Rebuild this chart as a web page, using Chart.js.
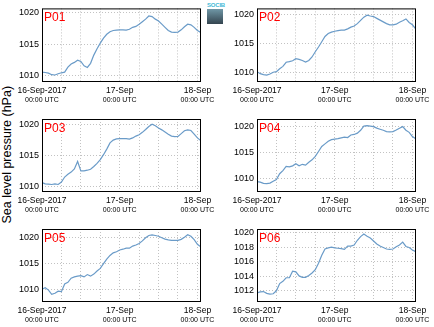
<!DOCTYPE html>
<html>
<head>
<meta charset="utf-8">
<script src="https://cdn.jsdelivr.net/npm/chart.js@4.4.0/dist/chart.umd.min.js"></script>
<style>
  body { margin: 0; background: #fff; }
  #wrap { position: relative; width: 434px; height: 327px; overflow: hidden; font-family: "Liberation Sans", Arial, sans-serif; }
  #wrap canvas { position: absolute; }
  #ylabel { position: absolute; left: 0; top: 0; white-space: nowrap; font-size: 12.5px; line-height: 1;
            transform-origin: 0 0; transform: translate(1px, 223.5px) rotate(-90deg); color: #000; }
  #logo { position: absolute; left: 207px; top: 2px; width: 16px; }
  #logo .txt { font-size: 6px; line-height: 7px; color: #3fb9d6; font-weight: bold; letter-spacing: -0.2px; text-align: center; }
  #logo .box { height: 15px; background: linear-gradient(#6f97a6, #34444f); }
</style>
</head>
<body>
<div id="wrap">
  <div id="ylabel">Sea level pressure (hPa)</div>
  <div id="logo"><div class="txt">SOCIB</div><div class="box"></div></div>
</div>
<script>
// hours since 16-Sep-2017 00:00 UTC
const hours = [0,1,2,3,4,5,6,7,8,9,10,11,12,13,14,15,16,17,18,19,20,21,22,23,24,
  25,26,27,28,29,30,31,32,33,34,35,36,37,38,39,40,41,42,43,44,45,46,47,48,49];

const p01 = [1010.6,1010.55,1010.45,1010.2,1010.15,1010.35,1010.5,1010.6,1011.4,1011.9,
  1012.15,1012.5,1012.3,1011.6,1011.35,1012.0,1013.3,1014.3,1015.2,1016.0,
  1016.6,1017.0,1017.2,1017.25,1017.3,1017.3,1017.25,1017.4,1017.7,1017.85,
  1018.2,1018.6,1019.0,1019.5,1019.4,1019.0,1018.7,1018.2,1017.7,1017.2,
  1016.95,1016.9,1016.95,1017.3,1017.8,1018.2,1018.1,1017.7,1017.2,1016.9];
const p02 = [1010.2,1009.85,1009.7,1009.6,1009.8,1010.1,1010.2,1010.7,1011.1,1011.8,
  1011.9,1012.05,1012.4,1012.3,1012.1,1011.85,1012.1,1012.7,1013.6,1014.4,
  1015.3,1016.2,1016.7,1016.95,1017.1,1017.2,1017.3,1017.3,1017.5,1017.8,
  1018.0,1018.4,1018.95,1019.5,1019.85,1019.7,1019.6,1019.3,1019.0,1018.7,
  1018.4,1018.2,1018.2,1018.3,1018.65,1018.9,1019.2,1018.6,1018.2,1017.5];
const p03 = [1010.6,1010.4,1010.35,1010.3,1010.4,1010.3,1010.7,1011.5,1011.95,1012.3,
  1012.8,1014.0,1012.5,1012.5,1012.6,1012.75,1013.2,1013.7,1014.3,1015.1,
  1016.0,1017.0,1017.45,1017.65,1017.7,1017.7,1017.7,1017.6,1017.8,1018.1,
  1018.3,1018.7,1019.15,1019.65,1020.0,1019.75,1019.4,1019.1,1018.75,1018.4,
  1018.1,1018.0,1018.05,1018.5,1018.95,1019.1,1019.0,1018.4,1017.8,1017.4];
const p04 = [1009.4,1009.3,1009.05,1009.0,1009.1,1009.45,1009.8,1010.9,1011.5,1012.3,
  1012.2,1012.4,1012.8,1012.4,1012.7,1012.55,1013.1,1013.55,1014.2,1015.15,
  1016.1,1016.6,1017.1,1017.4,1017.5,1017.6,1017.75,1017.9,1017.8,1018.3,
  1018.4,1018.65,1019.2,1020.0,1020.1,1020.0,1019.9,1019.6,1019.4,1019.2,
  1018.95,1018.9,1018.95,1019.25,1019.6,1019.9,1019.2,1018.8,1018.0,1017.6];
const p05 = [1010.0,1010.25,1009.8,1009.0,1009.2,1009.6,1009.5,1011.0,1011.3,1012.1,
  1012.35,1012.5,1012.6,1012.35,1012.8,1012.5,1012.9,1013.5,1014.0,1014.9,
  1015.8,1016.5,1017.0,1017.2,1017.55,1017.7,1017.9,1017.9,1018.3,1018.5,
  1018.8,1019.3,1019.9,1020.35,1020.45,1020.35,1020.2,1019.9,1019.65,1019.5,
  1019.4,1019.4,1019.4,1019.6,1020.0,1020.5,1020.2,1019.55,1018.65,1018.2];
const p06 = [1011.7,1011.85,1011.9,1011.65,1011.55,1011.6,1012.0,1013.0,1013.3,1013.8,
  1013.8,1014.7,1014.6,1014.05,1013.85,1013.85,1014.1,1014.45,1014.9,1015.8,
  1016.9,1017.75,1017.9,1018.0,1017.9,1017.85,1017.8,1017.7,1018.15,1018.15,
  1018.3,1018.95,1019.45,1019.8,1019.5,1019.25,1018.85,1018.45,1018.15,1017.95,
  1017.75,1017.7,1017.75,1018.05,1018.3,1018.7,1018.1,1017.95,1017.6,1017.4];

const panelNames = ["P01", "P02", "P03", "P04", "P05", "P06"];
const yTicksMain = [1010, 1015, 1020];
const yTicksP06 = [1012, 1014, 1016, 1018, 1020];
const xGridHours = [0, 6, 12, 18, 24, 30, 36, 42, 48];
const xLabelHours = [0, 24, 48];
const xLabels = ["16-Sep-2017", "17-Sep", "18-Sep"];
const xSubLabel = "00:00 UTC";

const FONT = "'Liberation Sans', Arial, sans-serif";
const LINE_COLOR = "#6a9bc8";
const GRID_COLOR = "#c2c2c2";

// layout of the 2x3 grid
const cols = [
  { left: 0, width: 215, padRight: 15 },
  { left: 215, width: 219, padRight: 19 }
];
const rows = [
  { top: 0, height: 108, padTop: 7, axisH: 27 },
  { top: 108, height: 110, padTop: 11, axisH: 27 },
  { top: 218, height: 109, padTop: 11, axisH: 26 }
];

const panels = [
  { values: p01, yTicks: yTicksMain, yMin: 1009.2, yMax: 1020.7 },
  { values: p02, yTicks: yTicksMain, yMin: 1008.6, yMax: 1021.0 },
  { values: p03, yTicks: yTicksMain, yMin: 1009.25, yMax: 1020.85 },
  { values: p04, yTicks: yTicksMain, yMin: 1007.6, yMax: 1021.35 },
  { values: p05, yTicks: yTicksMain, yMin: 1007.7, yMax: 1021.6 },
  { values: p06, yTicks: yTicksP06, yMin: 1010.6, yMax: 1020.5 }
];

// frame, panel name and two-line date labels
const panelDecor = {
  id: "panelDecor",
  afterDraw(chart, args, opts) {
    const { ctx, chartArea: a, scales: { x } } = chart;
    ctx.save();
    ctx.strokeStyle = "#000";
    ctx.lineWidth = 1;
    ctx.strokeRect(a.left + 0.5, a.top + 0.5, a.right - a.left, a.bottom - a.top);

    ctx.fillStyle = "#f00";
    ctx.font = "12px " + FONT;
    ctx.textAlign = "left";
    ctx.textBaseline = "alphabetic";
    ctx.fillText(opts.name, a.left + 2, a.top + 13);

    ctx.fillStyle = "#000";
    ctx.textAlign = "center";
    xLabelHours.forEach((h, i) => {
      const px = x.getPixelForValue(h);
      ctx.font = "8.5px " + FONT;
      ctx.fillText(xLabels[i], px, a.bottom + 12);
      ctx.font = "7px " + FONT;
      ctx.fillText(xSubLabel, px, a.bottom + 20.5);
    });
    ctx.restore();
  }
};

const wrap = document.getElementById("wrap");

panels.forEach((p, idx) => {
  const col = cols[idx % 2];
  const row = rows[Math.floor(idx / 2)];
  const canvas = document.createElement("canvas");
  canvas.width = col.width;
  canvas.height = row.height;
  canvas.style.left = col.left + "px";
  canvas.style.top = row.top + "px";
  wrap.appendChild(canvas);

  new Chart(canvas, {
    type: "line",
    data: {
      datasets: [{
        data: hours.map((h, i) => ({ x: h, y: p.values[i] })),
        borderColor: LINE_COLOR,
        borderWidth: 1.2,
        pointRadius: 0,
        tension: 0
      }]
    },
    options: {
      responsive: false,
      animation: false,
      layout: { padding: { top: row.padTop, right: col.padRight, left: 0, bottom: 0 } },
      plugins: {
        legend: { display: false },
        tooltip: { enabled: false },
        panelDecor: { name: panelNames[idx] }
      },
      scales: {
        x: {
          type: "linear",
          min: 0,
          max: 48.8,
          afterBuildTicks: s => { s.ticks = xGridHours.map(v => ({ value: v })); },
          afterFit: s => { s.height = row.axisH; },
          ticks: { display: false },
          grid: { color: GRID_COLOR, lineWidth: 1, drawTicks: false },
          border: { display: false, dash: [1, 2] }
        },
        y: {
          min: p.yMin,
          max: p.yMax,
          afterBuildTicks: s => { s.ticks = p.yTicks.map(v => ({ value: v })); },
          afterFit: s => { s.width = 42; },
          ticks: { color: "#000", font: { family: FONT, size: 9 }, padding: 3, callback: v => String(v) },
          grid: { color: GRID_COLOR, lineWidth: 1, drawTicks: false },
          border: { display: false, dash: [1, 2] }
        }
      }
    },
    plugins: [panelDecor]
  });
});
</script>
</body>
</html>
